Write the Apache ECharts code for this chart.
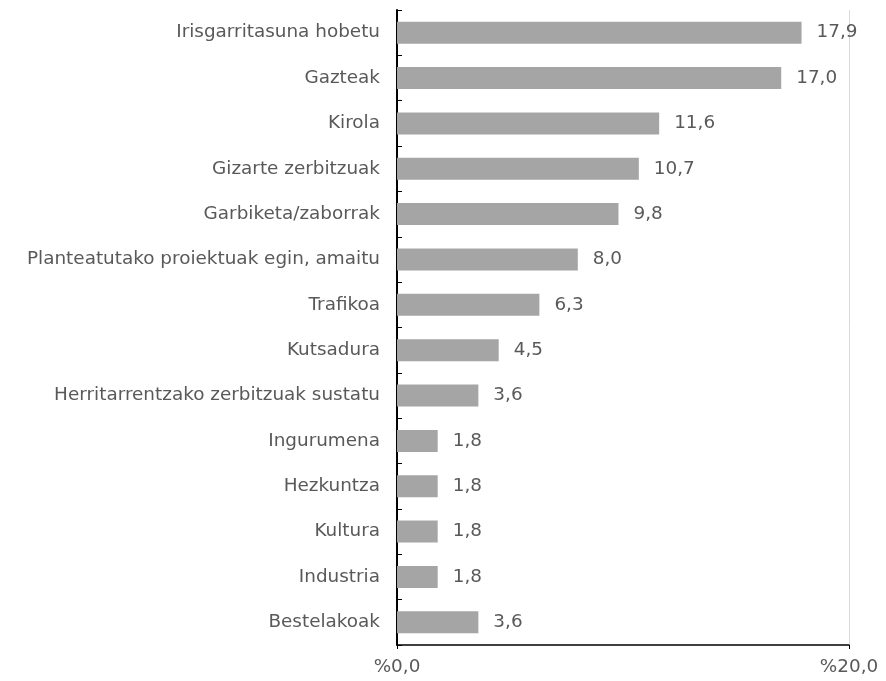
<!DOCTYPE html>
<html>
<head>
<meta charset="utf-8">
<script src="https://cdn.jsdelivr.net/npm/echarts@6/dist/echarts.min.js"></script>
<style>
  html, body { margin: 0; padding: 0; background: #fff; }
  #chart { width: 886px; height: 681px; }
</style>
</head>
<body>
<div id="chart"></div>
<script>
// kategoriak, goitik behera
var categories = [
  "Irisgarritasuna hobetu",
  "Gazteak",
  "Kirola",
  "Gizarte zerbitzuak",
  "Garbiketa/zaborrak",
  "Planteatutako proiektuak egin, amaitu",
  "Trafikoa",
  "Kutsadura",
  "Herritarrentzako zerbitzuak sustatu",
  "Ingurumena",
  "Hezkuntza",
  "Kultura",
  "Industria",
  "Bestelakoak"
];
var values = [17.9, 17.0, 11.6, 10.7, 9.8, 8.0, 6.3, 4.5, 3.6, 1.8, 1.8, 1.8, 1.8, 3.6];
var xTicks = [0, 20];

var fontFamily = "DejaVu Sans, Verdana, sans-serif";
var textColor = "#595959";
var fontSize = 18.4;

var chart = echarts.init(document.getElementById("chart"));
chart.setOption({
  animation: false,
  grid: {
    left: 397,
    right: 37,
    top: 10,
    bottom: 36
  },
  xAxis: {
    type: "value",
    min: 0,
    max: 20,
    interval: 20,
    axisLine: {
      show: true,
      lineStyle: { color: "#000", width: 1.5 }
    },
    axisTick: {
      show: true,
      length: 4,
      lineStyle: { color: "#000" }
    },
    axisLabel: {
      margin: 13,
      color: textColor,
      fontSize: fontSize,
      fontFamily: fontFamily,
      formatter: function (v) {
        return xTicks.indexOf(v) >= 0 ? "%" + v.toFixed(1).replace(".", ",") : "";
      }
    },
    splitLine: {
      show: true,
      lineStyle: { color: "#d9d9d9", width: 1 }
    }
  },
  yAxis: {
    type: "category",
    inverse: true,
    data: categories,
    axisLine: {
      show: true,
      lineStyle: { color: "#000", width: 2 }
    },
    axisTick: {
      show: true,
      inside: true,
      length: 5,
      lineStyle: { color: "#000" }
    },
    axisLabel: {
      margin: 17,
      color: textColor,
      fontSize: fontSize,
      fontFamily: fontFamily
    }
  },
  series: [
    {
      type: "bar",
      data: values,
      barWidth: 22,
      itemStyle: { color: "#a5a5a5" },
      label: {
        show: true,
        position: "right",
        distance: 15,
        color: textColor,
        fontSize: fontSize,
        fontFamily: fontFamily,
        formatter: function (p) {
          return p.value.toFixed(1).replace(".", ",");
        }
      }
    }
  ]
});
</script>
</body>
</html>
